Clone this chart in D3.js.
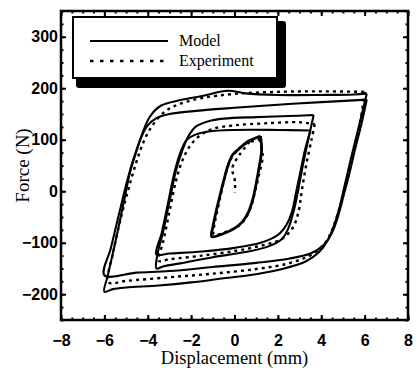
<!DOCTYPE html>
<html>
<head>
<meta charset="utf-8">
<script src="https://cdn.jsdelivr.net/npm/d3@7"></script>
<style>
  html, body { margin: 0; padding: 0; background: #fff; }
  svg { display: block; }
  .rot { opacity: 0.999; }
</style>
</head>
<body>
<svg id="chart" width="416" height="369"></svg>
<script>
// Hysteresis loops: force vs. displacement at three amplitudes (±1.2, ±3.6, ±6 mm)

const xTicks = [-8, -6, -4, -2, 0, 2, 4, 6, 8];
const yTicks = [-200, -100, 0, 100, 200, 300];
const legendLabels = ["Model", "Experiment"];

// Outer loop (±6 mm), model: two successive cycles
const outerModelA = [
  [6.1,190],[5.7,120],[5.35,60],[5.1,15],[4.85,-30],[4.6,-65],[4.3,-95],[3.9,-118],[3.3,-136],
  [2.2,-151],[1,-161],[-0.5,-169],[-2,-177],[-3.5,-183],[-5,-187],[-5.6,-190],[-6,-195],
  [-5.85,-165],[-5.5,-100],[-5.1,-20],[-4.8,40],[-4.5,80],[-4.25,112],[-3.9,145],[-3.4,166],
  [-2.5,177],[-1.5,185],[-0.3,195],[0.5,190],[2,187],[4,187],[5.5,188],[6.1,190]
];
const outerModelB = [
  [6.1,178],[5.85,130],[5.55,80],[5.3,35],[5.05,-5],[4.8,-45],[4.5,-80],[4.1,-105],[3.5,-121],
  [2.5,-131],[1,-139],[-1,-147],[-3,-155],[-4.5,-158],[-6,-163],
  [-5.7,-110],[-5.3,-40],[-4.95,20],[-4.6,70],[-4.3,105],[-4.0,128],[-3.6,142],[-3,150],
  [-1.5,157],[0,162],[2,168],[4,173],[6.1,178]
];
// Outer loop, experiment
const outerExp = [
  [6.0,193],[5.8,135],[5.5,80],[5.25,30],[5.0,-10],[4.75,-45],[4.5,-75],[4.15,-102],[3.6,-122],
  [2.5,-140],[1,-151],[-1,-160],[-3,-167],[-5,-174],[-5.8,-177],
  [-5.6,-120],[-5.2,-45],[-4.85,10],[-4.5,60],[-4.15,100],[-3.75,130],[-3.2,155],[-2.5,170],
  [-1.5,181],[0,189],[2,193],[4,194],[6.0,193]
];

// Middle loop (±3.6 mm), model: two successive cycles
const midModelA = [
  [3.65,148],[3.4,100],[3.15,50],[2.95,5],[2.75,-35],[2.5,-70],[2.2,-92],[1.5,-108],[0.5,-118],
  [-1,-128],[-2.5,-140],[-3.3,-146],[-3.6,-150],
  [-3.55,-122],[-3.3,-80],[-3.0,-20],[-2.7,40],[-2.4,80],[-2.15,105],[-1.8,125],[-1.2,136],
  [-0.5,141],[1,144],[2.5,146],[3.65,148]
];
const midModelB = [
  [3.5,118],[3.25,80],[3.05,40],[2.85,0],[2.65,-40],[2.4,-65],[2.0,-85],[1.2,-100],[0,-110],
  [-1.5,-117],[-3,-121],[-3.6,-123],
  [-3.35,-80],[-3.05,-20],[-2.75,40],[-2.45,80],[-2.2,100],[-1.8,110],[-1.2,116],[0,119],
  [2,119],[3.5,118]
];
// Middle loop, experiment
const midExp = [
  [3.7,130],[3.55,100],[3.3,50],[3.1,0],[2.95,-40],[2.7,-70],[2.2,-92],[1.2,-106],[0,-116],
  [-1.5,-125],[-3,-132],[-3.5,-135],
  [-3.3,-100],[-3.0,-40],[-2.7,20],[-2.4,60],[-2.05,88],[-1.6,108],[-1,121],[0,128],
  [1.5,132],[3,134],[3.7,130]
];

// Inner loop (±1.2 mm), model and experiment
const innerModel = [
  [1.2,107],[1.25,80],[1.15,50],[1.0,15],[0.85,-15],[0.65,-40],[0.35,-60],[0,-72],[-0.5,-82],
  [-1.05,-88],[-1.0,-70],[-0.85,-40],[-0.65,-5],[-0.5,20],[-0.3,50],[-0.1,70],[0.2,82],
  [0.6,96],[1.2,107]
];
const innerExp = [
  [1.15,101],[1.3,70],[1.12,30],[0.95,0],[0.8,-25],[0.55,-50],[0.2,-67],[-0.4,-79],
  [-0.95,-84],[-0.9,-60],[-0.75,-30],[-0.57,5],[-0.4,35],[-0.2,60],[0.1,78],[0.5,92],[1.15,101]
];
const innerExpTail = [[0.7,96],[0.25,72],[-0.1,45],[0.02,20],[0.02,-3]];

const modelSeries = [outerModelA, outerModelB, midModelA, midModelB, innerModel];
const expSeries = [outerExp, midExp, innerExp, innerExpTail];

const svg = d3.select("#chart");
const plotLeft = 61, plotRight = 408, plotTop = 11, plotBottom = 320;

const x = d3.scaleLinear().domain([-8, 8]).range([plotLeft, plotRight]);
const y = d3.scaleLinear().domain([-250, 350]).range([plotBottom, plotTop]);

const line = d3.line()
  .x(d => x(d[0]))
  .y(d => y(d[1]))
  .curve(d3.curveCatmullRom.alpha(0.5));

const plot = svg.append("g");

// experiment curves (dotted)
plot.selectAll("path.exp")
  .data(expSeries)
  .join("path")
  .attr("class", "exp")
  .attr("d", line)
  .attr("fill", "none")
  .attr("stroke", "#000")
  .attr("stroke-width", 2.4)
  .attr("stroke-dasharray", "3,4");

// model curves (solid); the small loop is drawn heavier
plot.selectAll("path.model")
  .data(modelSeries)
  .join("path")
  .attr("class", "model")
  .attr("d", line)
  .attr("fill", "none")
  .attr("stroke", "#000")
  .attr("stroke-width", d => d === innerModel ? 2.8 : 2.1)
  .attr("stroke-linejoin", "round");

// axes: inward ticks on all four sides
const tickFont = "'Liberation Sans', Arial, sans-serif";
const xMinor = d3.range(-8, 8.01, 0.5);
const yMinor = d3.range(-250, 350.01, 25);

function styleAxis(g) {
  g.select(".domain").remove();
  g.selectAll("line").attr("stroke", "#000").attr("stroke-width", 2);
  g.selectAll("text").attr("fill", "#000")
    .style("font-family", tickFont).style("font-size", "16px").style("font-weight", "bold");
}

svg.append("g").attr("transform", `translate(0,${plotBottom})`)
  .call(d3.axisBottom(x).tickValues(xMinor).tickSize(-2.5).tickFormat(""))
  .call(styleAxis);
svg.append("g").attr("transform", `translate(0,${plotBottom})`)
  .call(d3.axisBottom(x).tickValues(xTicks).tickSize(-5).tickPadding(15).tickFormat(d3.format("d")))
  .call(styleAxis);
svg.append("g").attr("transform", `translate(0,${plotTop})`)
  .call(d3.axisTop(x).tickValues(xMinor).tickSize(-2.5).tickFormat(""))
  .call(styleAxis);
svg.append("g").attr("transform", `translate(0,${plotTop})`)
  .call(d3.axisTop(x).tickValues(xTicks).tickSize(-5).tickFormat(""))
  .call(styleAxis);

svg.append("g").attr("transform", `translate(${plotLeft},0)`)
  .call(d3.axisLeft(y).tickValues(yMinor).tickSize(-2.5).tickFormat(""))
  .call(styleAxis);
svg.append("g").attr("transform", `translate(${plotLeft},0)`)
  .call(d3.axisLeft(y).tickValues(yTicks).tickSize(-5).tickPadding(3).tickFormat(d3.format("d")))
  .call(styleAxis);
svg.append("g").attr("transform", `translate(${plotRight},0)`)
  .call(d3.axisRight(y).tickValues(yMinor).tickSize(-2.5).tickFormat(""))
  .call(styleAxis);
svg.append("g").attr("transform", `translate(${plotRight},0)`)
  .call(d3.axisRight(y).tickValues(yTicks).tickSize(-5).tickFormat(""))
  .call(styleAxis);

// frame
svg.append("rect")
  .attr("x", plotLeft).attr("y", plotTop)
  .attr("width", plotRight - plotLeft).attr("height", plotBottom - plotTop)
  .attr("fill", "none").attr("stroke", "#000").attr("stroke-width", 2.5);

// axis titles
const titleFont = "'Liberation Serif', 'Times New Roman', serif";
svg.append("text")
  .attr("x", (plotLeft + plotRight) / 2).attr("y", 364)
  .attr("text-anchor", "middle")
  .attr("fill", "#000")
  .style("font-family", titleFont).style("font-size", "18.5px")
  .text("Displacement (mm)");
svg.append("g").attr("class", "rot")
  .append("text")
  .attr("transform", `translate(29,${(y(300) + y(-200)) / 2}) rotate(-90)`)
  .attr("text-anchor", "middle")
  .attr("fill", "#000")
  .style("font-family", titleFont).style("font-size", "19px")
  .text("Force (N)");

// legend with drop shadow
const legend = svg.append("g");
legend.append("rect")
  .attr("x", 76).attr("y", 21).attr("width", 210).attr("height", 67)
  .attr("rx", 3).attr("fill", "#000");
legend.append("rect")
  .attr("x", 73).attr("y", 17).attr("width", 204).attr("height", 61)
  .attr("fill", "#fff").attr("stroke", "#000").attr("stroke-width", 2);

const legendRows = [
  { label: legendLabels[0], y: 41, dash: null, width: 2 },
  { label: legendLabels[1], y: 61, dash: "3.5,6.5", width: 2.6 }
];
legendRows.forEach(r => {
  legend.append("line")
    .attr("x1", 90).attr("x2", 168).attr("y1", r.y).attr("y2", r.y)
    .attr("stroke", "#000").attr("stroke-width", r.width)
    .attr("stroke-dasharray", r.dash);
  legend.append("text")
    .attr("x", 179).attr("y", r.y + 5)
    .attr("fill", "#000")
    .style("font-family", titleFont).style("font-size", "16px")
    .text(r.label);
});
</script>
</body>
</html>
